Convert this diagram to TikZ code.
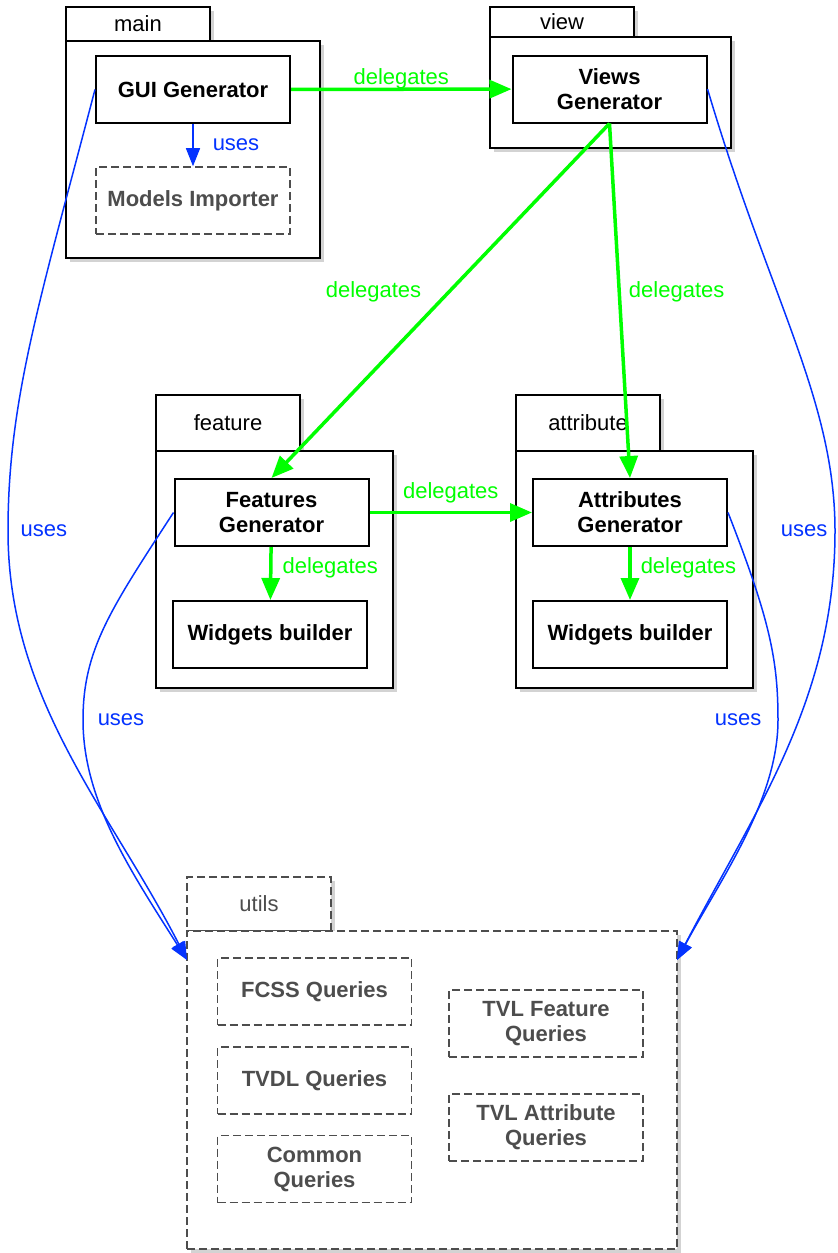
\documentclass[tikz,border=0pt]{standalone}
\usepackage{fontspec}
\setmainfont{Liberation Sans}
\usetikzlibrary{arrows.meta,shadows}

\definecolor{delegateGreen}{RGB}{0,255,0}
\definecolor{usesBlue}{RGB}{4,51,255}
\definecolor{utilGray}{RGB}{77,77,77}

\begin{document}
\begin{tikzpicture}[x=0.5pt,y=-0.5pt,
    font=\fontsize{11}{12.5}\selectfont,
    pkg/.style={draw, line width=1pt, fill=white, outer sep=0pt, inner sep=0pt,
        drop shadow={shadow xshift=2pt, shadow yshift=-2pt, opacity=0.35}},
    tab/.style={pkg, anchor=north west, minimum width=72pt},
    utilpkg/.style={pkg, draw=utilGray, text=utilGray, dash pattern=on 4pt off 2pt, line width=0.8pt},
    box/.style={draw, line width=1pt, fill=white, minimum width=97pt, minimum height=33.5pt,
        align=center, font=\fontsize{11}{12.5}\selectfont\bfseries},
    utilbox/.style={box, draw=utilGray, text=utilGray, dash pattern=on 4pt off 2pt, line width=0.8pt},
    delegate/.style={draw=delegateGreen, line width=1.75pt, -{Triangle[length=11pt,width=9pt]}},
    uses/.style={draw=usesBlue, line width=0.75pt, -{Triangle[length=9pt,width=7pt]}},
    dlabel/.style={inner sep=1pt, text=delegateGreen},
    ulabel/.style={inner sep=1pt, text=usesBlue}]

    \useasboundingbox (0,0) rectangle (837,1253);

    % Packages
    \node[tab, minimum height=17pt] (mainTab) at (66,7) {main};
    \node[pkg, anchor=north west, minimum width=127pt, minimum height=108.5pt] (mainPkg) at (mainTab.south west) {};

    \node[tab, minimum height=15pt] (viewTab) at (490,7) {view};
    \node[pkg, anchor=north west, minimum width=120.5pt, minimum height=55.5pt] (viewPkg) at (viewTab.south west) {};

    \node[tab, minimum height=28pt] (featTab) at (156,395) {feature};
    \node[pkg, anchor=north west, minimum width=118.5pt, minimum height=118.5pt] (featPkg) at (featTab.south west) {};

    \node[tab, minimum height=28pt] (attrTab) at (516,395) {attribute};
    \node[pkg, anchor=north west, minimum width=118.5pt, minimum height=118.5pt] (attrPkg) at (attrTab.south west) {};

    \node[utilpkg, anchor=north west, minimum width=72pt, minimum height=27pt] (utilsTab) at (187,877) {utils};
    \node[utilpkg, anchor=north west, minimum width=245pt, minimum height=159pt] (utilsPkg) at (utilsTab.south west) {};

    % Generators
    \node[box] (gui) at (193,89.5) {GUI Generator};
    \node[utilbox] (importer) at (193,200.5) {Models Importer};
    \node[box] (views) at (609.5,89) {Views\\Generator};
    \node[box] (features) at (271.5,512.5) {Features\\Generator};
    \node[box] (featWidgets) at (270,634.5) {Widgets builder};
    \node[box] (attributes) at (630,512.5) {Attributes\\Generator};
    \node[box] (attrWidgets) at (630,634.5) {Widgets builder};

    % Queries
    \node[utilbox] (fcss) at (314.5,991.5) {FCSS Queries};
    \node[utilbox] (tvdl) at (314.5,1080.5) {TVDL Queries};
    \node[utilbox] (common) at (314.5,1169) {Common\\Queries};
    \node[utilbox] (tvlFeature) at (546,1023.5) {TVL Feature\\Queries};
    \node[utilbox] (tvlAttribute) at (546,1127.5) {TVL Attribute\\Queries};

    % Delegation arrows
    \draw[delegate] (gui) -- node[dlabel, above=-2pt] {delegates} (views);
    \draw[delegate] (views.south) -- node[dlabel, pos=0.475, left=12pt] {delegates} (features.north);
    \draw[delegate] (views.south) -- node[dlabel, pos=0.475, right=3pt] {delegates} (attributes.north);
    \draw[delegate] (features) -- node[dlabel, above=3pt] {delegates} (attributes);
    \draw[delegate] (features) -- node[dlabel, pos=0.4, right=4pt] {delegates} (featWidgets);
    \draw[delegate] (attributes) -- node[dlabel, pos=0.4, right=3.5pt] {delegates} (attrWidgets);

    % Uses arrows
    \coordinate (utilsLeft) at ([yshift=-14.5pt]utilsPkg.north west);
    \coordinate (utilsRight) at ([yshift=-14.5pt]utilsPkg.north east);

    \draw[uses] (gui) -- node[ulabel, right=8.5pt] {uses} (importer);
    \draw[uses] (gui.west) .. controls (40,300) and (8,400) .. (8,531) node[ulabel, right=5pt] {uses}
        .. controls (8,700) and (110,810) .. (utilsLeft);
    \draw[uses] (features.west) .. controls (110,610) and (83,650) .. (83,720) node[ulabel, right=6pt] {uses}
        .. controls (83,800) and (130,870) .. (utilsLeft);
    \draw[uses] (views.east) .. controls (770,300) and (835,400) .. (835,531) node[ulabel, left=2.5pt] {uses}
        .. controls (835,700) and (755,810) .. (utilsRight);
    \draw[uses] (attributes.east) .. controls (770,620) and (778,660) .. (778,720) node[ulabel, left=7pt] {uses}
        .. controls (778,800) and (720,880) .. (utilsRight);
\end{tikzpicture}
\end{document}
